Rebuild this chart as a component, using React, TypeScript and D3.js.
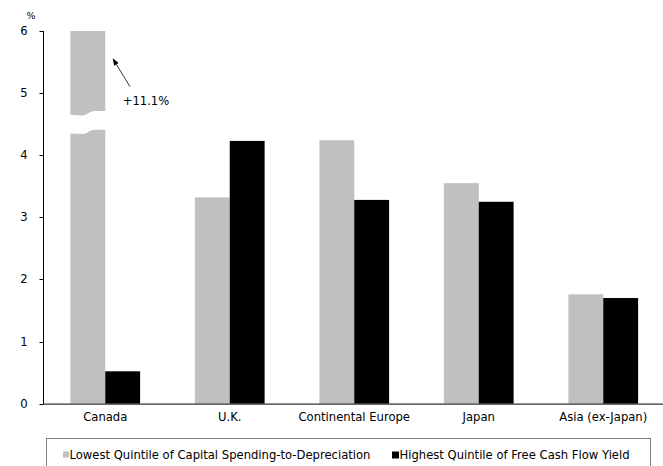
import React from "react";
import * as d3 from "d3";

const categories = ["Canada", "U.K.", "Continental Europe", "Japan", "Asia (ex-Japan)"];
const seriesNames = [
  "Lowest Quintile of Capital Spending-to-Depreciation",
  "Highest Quintile of Free Cash Flow Yield",
];
const lowestCapexValues = [11.1, 3.32, 4.24, 3.55, 1.76];
const highestFcfValues = [0.52, 4.23, 3.28, 3.25, 1.7];
const yTicks = [0, 1, 2, 3, 4, 5, 6];
const seriesColors = ["#c0c0c0", "#000000"];

// broken-bar band for values above the axis maximum
const breakLow = 4.35;
const breakHigh = 4.65;
const breakRise = 0.06;

const W = 663;
const H = 466;
const FONT = "DejaVu Sans, Verdana, sans-serif";
const FS = 11.6;

export default function App() {
  const y = d3.scaleLinear().domain([0, 6]).range([403.6, 31]);
  const x = d3.scaleBand<string>().domain(categories).range([43, 665.5]).paddingInner(0.44).paddingOuter(0.22);
  const sub = d3.scaleBand<number>().domain([0, 1]).range([0, x.bandwidth()]);
  const yMax = y.domain()[1];

  const bars: React.ReactNode[] = [];
  categories.forEach((c, i) => {
    [lowestCapexValues[i], highestFcfValues[i]].forEach((v, s) => {
      const x0 = (x(c) ?? 0) + (sub(s) ?? 0);
      const w = sub.bandwidth();
      if (v > yMax) {
        // upper piece with wavy bottom, lower piece with wavy top
        const x1 = x0 + w;
        const xm = x0 + w * 0.55;
        const hiL = y(breakHigh);
        const hiR = y(breakHigh + breakRise);
        const loL = y(breakLow);
        const loR = y(breakLow + breakRise);
        const upper = `M${x0},${y(yMax)} L${x1},${y(yMax)} L${x1},${hiR} L${xm + 5},${hiR} C${xm},${hiR} ${xm - 2},${hiL + 0.6} ${xm - 8},${hiL + 0.6} L${x0},${hiL} Z`;
        const lower = `M${x0},${y(0)} L${x1},${y(0)} L${x1},${loR} L${xm + 5},${loR} C${xm},${loR} ${xm - 2},${loL + 0.6} ${xm - 8},${loL + 0.6} L${x0},${loL} Z`;
        bars.push(<path key={`u${i}${s}`} d={upper} fill={seriesColors[s]} />);
        bars.push(<path key={`l${i}${s}`} d={lower} fill={seriesColors[s]} />);
      } else {
        bars.push(
          <rect key={`b${i}${s}`} x={x0} y={y(v)} width={w} height={y(0) - y(v)} fill={seriesColors[s]} />
        );
      }
    });
  });

  // annotation for the clipped Canada bar
  const arrowTail: [number, number] = [130, 86.7];
  const arrowTip: [number, number] = [112.7, 58.3];
  const ang = Math.atan2(arrowTip[1] - arrowTail[1], arrowTip[0] - arrowTail[0]);
  const hl = 7;
  const hw = 2.6;
  const bx = arrowTip[0] - hl * Math.cos(ang);
  const by = arrowTip[1] - hl * Math.sin(ang);
  const head = `M${arrowTip[0]},${arrowTip[1]} L${bx + hw * Math.sin(ang)},${by - hw * Math.cos(ang)} L${bx - hw * Math.sin(ang)},${by + hw * Math.cos(ang)} Z`;

  return (
    <div style={{ position: "fixed", left: 0, top: 0 }}>
      <svg width={W} height={H} style={{ display: "block", background: "#fff" }} fontFamily={FONT}>
        {bars}
        {/* axes */}
        <line x1={43.5} x2={43.5} y1={y(6)} y2={y(0)} stroke="#000" />
        <line x1={43} x2={W} y1={y(0) + 0.5} y2={y(0) + 0.5} stroke="#000" />
        {yTicks.map((t) => (
          <g key={t}>
            <line x1={39.5} x2={43.5} y1={Math.round(y(t)) + 0.5} y2={Math.round(y(t)) + 0.5} stroke="#000" />
            <text x={24} y={y(t)} dy="0.35em" textAnchor="middle" fontSize={FS}>
              {t}
            </text>
          </g>
        ))}
        <text x={31} y={16} dy="0.35em" textAnchor="middle" fontSize={9.5}>
          %
        </text>
        {categories.map((c) => (
          <text key={c} x={(x(c) ?? 0) + x.bandwidth() / 2} y={417} dy="0.35em" textAnchor="middle" fontSize={FS}>
            {c}
          </text>
        ))}
        {/* annotation */}
        <line x1={arrowTail[0]} y1={arrowTail[1]} x2={bx} y2={by} stroke="#000" strokeWidth={0.8} />
        <path d={head} fill="#000" />
        <text x={122.7} y={101} dy="0.35em" fontSize={FS}>
          +{lowestCapexValues[0]}%
        </text>
        {/* legend */}
        <rect x={46.5} y={438.5} width={604} height={40} fill="none" stroke="#808080" />
        <rect x={63} y={451.5} width={6} height={6} fill={seriesColors[0]} />
        <text x={69.5} y={454.5} dy="0.35em" fontSize={FS}>
          {seriesNames[0]}
        </text>
        <rect x={392} y={451.5} width={7} height={7} fill={seriesColors[1]} />
        <text x={399.5} y={454.5} dy="0.35em" fontSize={FS}>
          {seriesNames[1]}
        </text>
      </svg>
    </div>
  );
}
